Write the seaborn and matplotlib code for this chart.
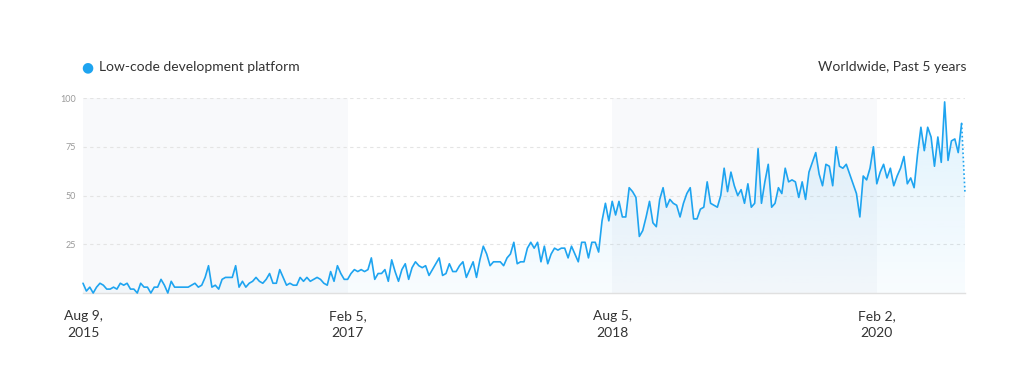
import numpy as np
import pandas as pd
import matplotlib
matplotlib.use("Agg")
import matplotlib.pyplot as plt
import matplotlib.dates as mdates
import seaborn as sns

# ---------------- data ----------------
series_name = "Low-code development platform"
region_label = "Worldwide, Past 5 years"
start_date = "2015-08-09"

values_2015_2016 = [5, 1, 3, 0, 3, 5, 4, 2, 2, 3, 2, 5, 4, 5, 2, 2, 0, 5, 3, 3,
                    0, 3, 3, 7, 4, 0, 6, 3, 3, 3, 3, 3, 4, 5, 3, 4, 8, 14, 3, 4,
                    2, 7, 8, 8, 8, 14, 3, 6, 3, 5, 6, 8, 6, 5, 7, 10, 5, 5, 12, 8,
                    4, 5, 4, 4]
values_2016_2018 = [8, 6, 8, 6, 7, 8, 7, 5, 4, 11, 6, 14, 10, 7, 7, 10, 12, 11, 12, 11,
                    12, 18, 7, 10, 10, 12, 6, 17, 11, 6, 12, 15, 7, 13, 16, 14, 13, 14, 9, 12,
                    15, 18, 9, 10, 15, 11, 11, 14, 16, 8, 12, 16, 8, 17, 24, 20, 14, 16, 16, 16,
                    14, 18, 20, 26, 15]
values_2018_2019 = [16, 16, 23, 26, 23, 26, 16, 24, 15, 20, 23, 22, 23, 23, 18, 24, 20, 16, 26, 26,
                    18, 26, 26, 21, 37, 46, 37, 47, 40, 47, 39, 39, 54, 52, 49, 29, 32, 39, 47, 36,
                    34, 48, 54, 44, 48, 46, 45, 39, 46, 51, 54, 38, 38, 43, 44, 57, 46, 45, 44, 50,
                    64, 52, 62, 55, 50]
values_2019_2020 = [53, 46, 56, 44, 46, 74, 46, 57, 66, 44, 46, 54, 51, 64, 57, 58, 57, 49, 57, 48,
                    62, 67, 72, 61, 55, 66, 65, 55, 75, 65, 64, 66, 61, 56, 51, 39, 60, 58, 64, 75,
                    56, 62, 66, 59, 64, 55, 60, 64, 70, 56, 59, 54, 71, 85, 73, 85, 80, 65, 80, 67,
                    98, 68, 78, 79, 72, 87, 51]

values = values_2015_2016 + values_2016_2018 + values_2018_2019 + values_2019_2020
dates = pd.date_range(start_date, periods=len(values), freq="7D")
df = pd.DataFrame({"date": dates, "interest": values})

tick_dates = pd.to_datetime(["2015-08-09", "2017-02-05", "2018-08-05", "2020-02-02"])
tick_labels = ["Aug 9,\n2015", "Feb 5,\n2017", "Aug 5,\n2018", "Feb 2,\n2020"]
y_ticks = [25, 50, 75, 100]

# ---------------- style ----------------
sns.set_theme(style="white")
plt.rcParams["font.family"] = ["Lato", "DejaVu Sans"]

line_color = "#1ea4f0"
text_color = "#333333"

fig = plt.figure(figsize=(10.24, 3.73), dpi=100)
ax = fig.add_axes([83 / 1024, 1 - 293 / 373, (965 - 83) / 1024, (293 - 98) / 373])

# alternating background bands
ax.axvspan(tick_dates[0], tick_dates[1], color="#f8f9fb", zorder=0, lw=0)
ax.axvspan(tick_dates[2], tick_dates[3], color="#f8f9fb", zorder=0, lw=0)

# gridlines
for yv in y_ticks:
    ax.axhline(yv, color="#e4e4e4", lw=0.8, dashes=(3, 3), zorder=1)

# gradient fill under the line
poly = ax.fill_between(df["date"], df["interest"], 0, facecolor="none", lw=0, zorder=2)
x0 = mdates.date2num(dates[0])
x1 = mdates.date2num(dates[-1])
grad = np.linspace(1, 0, 256).reshape(-1, 1)
rgba = np.zeros((256, 1, 4))
rgba[..., 0] = 0x1e / 255
rgba[..., 1] = 0xa4 / 255
rgba[..., 2] = 0xf0 / 255
rgba[..., 3] = 0.03 + 0.11 * grad
img = ax.imshow(rgba, extent=[x0, x1, 0, 100], aspect="auto", origin="upper", zorder=2)
path = poly.get_paths()[0]
img.set_clip_path(path, transform=ax.transData)

# main line (solid) and last partial week (dotted)
sns.lineplot(data=df.iloc[:-1], x="date", y="interest", ax=ax, color=line_color,
             lw=1.2, zorder=3, clip_on=False)
sns.lineplot(data=df.iloc[-2:], x="date", y="interest", ax=ax, color=line_color,
             lw=1.2, zorder=3, linestyle=(0, (1, 1.5)), clip_on=False)

ax.set_xlim(dates[0], dates[-1])
ax.set_ylim(0, 100)
ax.set_xlabel("")
ax.set_ylabel("")

ax.set_yticks(y_ticks)
ax.set_yticklabels([str(v) for v in y_ticks])
ax.tick_params(axis="y", length=0, pad=5, labelsize=6.5, labelcolor="#9a9a9a")
ax.set_xticks(tick_dates)
ax.set_xticklabels(tick_labels, linespacing=1.5)
ax.tick_params(axis="x", length=0, pad=12, labelsize=10, labelcolor=text_color)

for side in ["top", "left", "right"]:
    ax.spines[side].set_visible(False)
ax.spines["bottom"].set_color("#e0e0e0")
ax.spines["bottom"].set_linewidth(1.0)

# legend + region label
fig.text(87 / 1024, 1 - 67 / 373, "\u25CF", color=line_color, fontsize=10,
         ha="center", va="center", family=["DejaVu Sans"])
fig.text(99 / 1024, 1 - 67 / 373, series_name, color=text_color, fontsize=10,
         ha="left", va="center")
fig.text(966 / 1024, 1 - 67 / 373, region_label, color=text_color, fontsize=10,
         ha="right", va="center")

fig.savefig("out.png", dpi=100, facecolor="white")
